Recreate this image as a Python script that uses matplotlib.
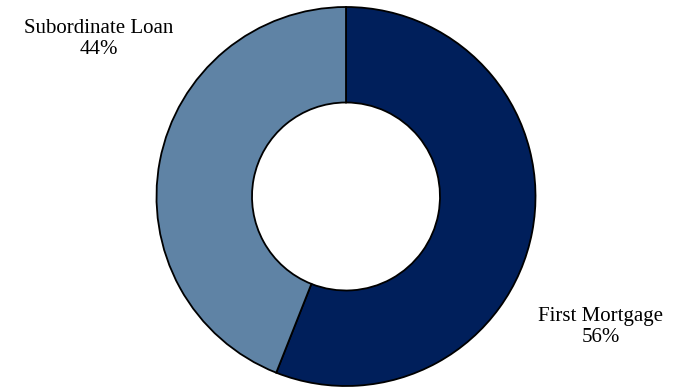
import matplotlib.pyplot as plt

labels = ["First Mortgage", "Subordinate Loan"]
shares = [56, 44]
colors = ["#001F5B", "#5F83A5"]

fig = plt.figure(figsize=(6.83, 3.87), dpi=100)
ax = fig.add_axes([0, 0, 1, 1])
ax.set_xlim(0, 683)
ax.set_ylim(0, 387)
ax.set_aspect("equal")
ax.axis("off")

ax.pie(shares, colors=colors, startangle=90, counterclock=False,
       radius=189.5, center=(346, 190.5),
       wedgeprops=dict(width=95.5, edgecolor="black", linewidth=1.3))

# percentage labels outside the ring
font = dict(family=["Liberation Serif", "DejaVu Serif"], fontsize=15,
            ha="center", va="center", linespacing=1.1)
ax.text(601, 387 - 327, f"{labels[0]}\n{shares[0]}%", **font)
ax.text(98.5, 387 - 39, f"{labels[1]}\n{shares[1]}%", **font)

ax.set_xlim(0, 683)
ax.set_ylim(0, 387)

fig.savefig("out.png", dpi=100)
